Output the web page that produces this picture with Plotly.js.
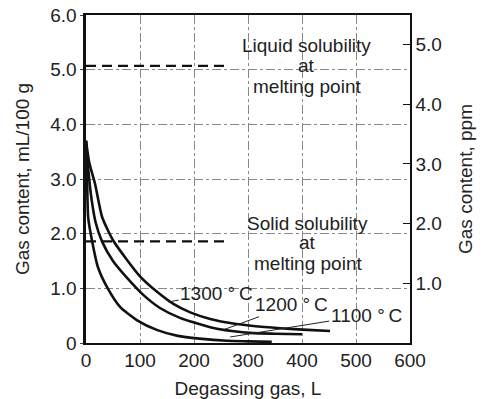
<!DOCTYPE html>
<html>
<head>
<meta charset="utf-8">
<script src="https://cdn.plot.ly/plotly-3.0.1.min.js"></script>
<style>html,body{margin:0;padding:0;background:#fff;}#chart{width:490px;height:399px;}</style>
</head>
<body>
<div id="chart"></div>
<script>
// Curve data
const x1300 = [0, 6, 17, 30, 50, 76, 100, 131, 161, 193, 230, 270, 310, 360, 410, 452];
const y1300 = [3.7, 3.3, 2.9, 2.3, 1.88, 1.52, 1.22, 0.94, 0.72, 0.56, 0.44, 0.36, 0.31, 0.27, 0.24, 0.22];
const x1200 = [0, 4, 10, 18, 30, 50, 76, 106, 137, 174, 230, 270, 310, 350, 400];
const y1200 = [3.7, 3.2, 2.65, 2.2, 1.85, 1.5, 1.19, 0.88, 0.64, 0.46, 0.29, 0.22, 0.18, 0.17, 0.16];
const x1100 = [0, 2, 4, 11, 22, 39, 63, 94, 131, 170, 210, 261, 300, 344];
const y1100 = [3.7, 3.0, 2.3, 1.88, 1.39, 1.02, 0.66, 0.42, 0.24, 0.13, 0.08, 0.04, 0.03, 0.02];
// Solubility reference lines
const liquidX = [0, 260];
const liquidY = [5.07, 5.07];
const solidX = [0, 260];
const solidY = [1.86, 1.86];
// Axis ticks
const xTicks = [0, 100, 200, 300, 400, 500, 600];
const yTicks = [0, 1, 2, 3, 4, 5, 6];
const yTickText = ['0', '1.0', '2.0', '3.0', '4.0', '5.0', '6.0'];
const ppmTicks = [1, 2, 3, 4, 5];
const ppmTickText = ['1.0', '2.0', '3.0', '4.0', '5.0'];
const ppmPerUnit = 1 / 1.092; // mL/100 g -> ppm

const FONT = 'Liberation Sans, Arial, sans-serif';
const TXT = '#222';
const FS = 19;
const curve = {mode: 'lines', line: {color: '#111', width: 2.6, shape: 'spline', smoothing: 0.6}, hoverinfo: 'skip', showlegend: false};
const dashed = {mode: 'lines', line: {color: '#111', width: 2.2, dash: '10px,6px'}, hoverinfo: 'skip', showlegend: false};

const data = [
  Object.assign({x: liquidX, y: liquidY}, dashed),
  Object.assign({x: solidX, y: solidY}, dashed),
  Object.assign({x: x1300, y: y1300, name: '1300 °C'}, curve),
  Object.assign({x: x1200, y: y1200, name: '1200 °C'}, curve),
  Object.assign({x: x1100, y: y1100, name: '1100 °C'}, curve),
  {x: [0], y: [0], yaxis: 'y2', mode: 'markers', marker: {opacity: 0}, hoverinfo: 'skip', showlegend: false}
];

function txt(x, y, t) {
  return {x: x, y: y, xref: 'x', yref: 'y', text: t, showarrow: false, borderpad: 0,
    font: {family: FONT, size: FS, color: TXT}};
}
function lbl(px, py, tx, ty, t) {
  return {x: px, y: py, ax: tx, ay: ty, axref: 'x', ayref: 'y', xref: 'x', yref: 'y',
    text: t, showarrow: true, arrowhead: 0, arrowwidth: 1, arrowcolor: '#222',
    font: {family: FONT, size: FS, color: TXT}};
}

const layout = {
  width: 490, height: 399,
  margin: {l: 86, r: 80, t: 15, b: 56},
  paper_bgcolor: '#fff', plot_bgcolor: '#fff',
  font: {family: FONT, size: FS, color: TXT},
  showlegend: false,
  xaxis: {
    range: [0, 600], tickvals: xTicks, ticktext: xTicks.map(String),
    showgrid: true, gridcolor: '#888', griddash: 'dashdot', gridwidth: 1,
    zeroline: false, showline: true, linecolor: '#111', linewidth: 1.6, mirror: true,
    ticks: '', tickfont: {family: FONT, size: FS, color: TXT},
    title: {text: 'Degassing gas, L', font: {family: FONT, size: FS, color: TXT}, standoff: 20}
  },
  yaxis: {
    range: [0, 6], tickvals: yTicks, ticktext: yTickText,
    showgrid: true, gridcolor: '#888', griddash: 'dashdot', gridwidth: 1,
    zeroline: false, showline: true, linecolor: '#111', linewidth: 2.6, mirror: false,
    ticks: 'outside', ticklen: 3, tickcolor: '#444',
    tickfont: {family: FONT, size: FS, color: TXT},
    title: {text: 'Gas content, mL/100 g', font: {family: FONT, size: FS, color: TXT}, standoff: 16}
  },
  yaxis2: {
    overlaying: 'y', side: 'right', range: [0, 6 * ppmPerUnit],
    tickvals: ppmTicks, ticktext: ppmTickText,
    showgrid: false, zeroline: false, showline: true, linecolor: '#111', linewidth: 1.6,
    ticks: 'inside', ticklen: 7, tickcolor: '#111',
    tickfont: {family: FONT, size: FS, color: TXT},
    title: {text: 'Gas content, ppm', font: {family: FONT, size: FS, color: TXT}, standoff: 18}
  },
  annotations: [
    txt(409, 5.44, 'Liquid solubility'),
    txt(409, 5.07, 'at'),
    txt(409, 4.70, 'melting point'),
    txt(411, 2.19, 'Solid solubility'),
    txt(411, 1.83, 'at'),
    txt(411, 1.46, 'melting point'),
    lbl(152, 0.75, 242, 0.91, '1300 °\u2009C'),
    lbl(254, 0.24, 381, 0.70, '1200 °\u2009C'),
    lbl(267, 0.11, 519, 0.51, '1100 °\u2009C')
  ]
};

Plotly.newPlot('chart', data, layout, {staticPlot: true, displayModeBar: false});
</script>
</body>
</html>
